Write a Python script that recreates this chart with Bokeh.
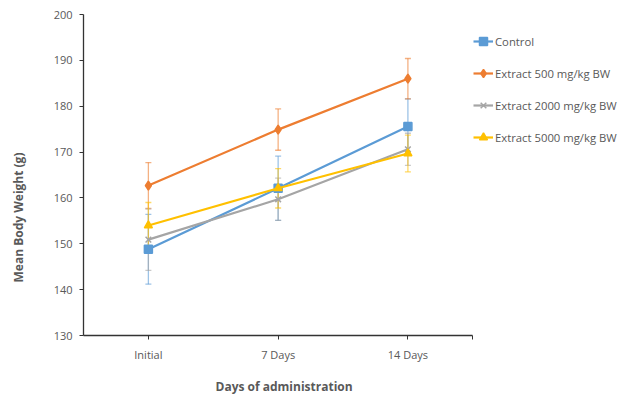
from bokeh.plotting import figure
from bokeh.models import (ColumnDataSource, Whisker, Range1d, Legend, LegendItem, TeeHead,
                          FixedTicker, Title)
from bokeh.embed import file_html
from bokeh.resources import INLINE

days = ["Initial", "7 Days", "14 Days"]
control = [148.8, 162.1, 175.6]
control_err = [7.6, 7.0, 6.0]
ext500 = [162.7, 174.9, 186.0]
ext500_err = [5.0, 4.5, 4.4]
ext2000 = [150.9, 159.7, 170.6]
ext2000_err = [6.7, 4.6, 3.5]
ext5000 = [154.0, 162.1, 169.7]
ext5000_err = [5.0, 4.3, 4.0]
y_ticks = [130, 140, 150, 160, 170, 180, 190, 200]

FONT = "Open Sans"
GREY = "#595959"
AXC = "#333333"

xs = list(range(len(days)))

p = figure(width=630, height=398, x_range=Range1d(-0.5, 3.7), y_range=Range1d(130, 200),
           output_backend="svg", toolbar_location=None,
           min_border_left=83, min_border_top=14, min_border_bottom=63, min_border_right=2)
p.outline_line_color = None
p.xgrid.grid_line_color = None
p.ygrid.grid_line_color = None

series = [
    ("Control", control, control_err, "#5B9BD5", "square", 8),
    ("Extract 500 mg/kg BW", ext500, ext500_err, "#ED7D31", "diamond", 9),
    ("Extract 2000 mg/kg BW", ext2000, ext2000_err, "#A5A5A5", "x", 8),
    ("Extract 5000 mg/kg BW", ext5000, ext5000_err, "#FFC000", "triangle", 8),
]

items = []
for name, vals, errs, color, marker, size in series:
    src = ColumnDataSource(dict(x=xs, y=vals,
                                upper=[v + e for v, e in zip(vals, errs)],
                                lower=[v - e for v, e in zip(vals, errs)]))
    w = Whisker(base="x", upper="upper", lower="lower", source=src, dimension="height",
                line_color=color, line_alpha=0.6, line_width=1.3,
                upper_head=TeeHead(size=6, line_color=color, line_alpha=0.6, line_width=1.3),
                lower_head=TeeHead(size=6, line_color=color, line_alpha=0.6, line_width=1.3))
    p.add_layout(w)
    lr = p.line("x", "y", source=src, line_color=color, line_width=2.2)
    sr = p.scatter("x", "y", source=src, marker=marker, size=size, fill_color=color,
                   line_color=color, line_width=1.5)
    items.append(LegendItem(label=name, renderers=[lr, sr]))

legend = Legend(items=items, location=(390, 188), orientation="vertical",
                label_text_font=FONT, label_text_font_size="11.3px", label_text_color=GREY,
                glyph_width=20, glyph_height=20, label_height=20, spacing=12,
                label_standoff=2, padding=0, margin=0,
                border_line_color=None, background_fill_alpha=0)
p.add_layout(legend)

p.xaxis.ticker = FixedTicker(ticks=xs + [len(days) - 0.5])
p.xaxis.major_label_overrides = {**{x: d for x, d in zip(xs, days)}, len(days) - 0.5: ""}
p.xaxis.bounds = (-0.5, len(days) - 0.5)
p.xaxis.minor_tick_line_color = None
p.yaxis.ticker = y_ticks
p.yaxis.minor_tick_line_color = None
for ax in (p.xaxis, p.yaxis):
    ax.axis_line_color = AXC
    ax.axis_line_width = 1.3
    ax.major_tick_line_color = AXC
    ax.major_tick_in = 0
    ax.major_tick_out = 4
    ax.major_label_text_font = FONT
    ax.major_label_text_font_size = "11px"
    ax.major_label_text_color = GREY
p.xaxis.major_label_standoff = 7
p.yaxis.major_label_standoff = 7

# spacer panels between the axes and their titles
p.add_layout(Title(text=" ", text_font_size="1px", standoff=21, text_color="#ffffff"), "left")
p.add_layout(Title(text="Mean Body Weight (g)", align="left", offset=53, standoff=0,
                   text_font=FONT, text_font_size="12px", text_font_style="bold",
                   text_color=GREY), "left")
p.add_layout(Title(text=" ", text_font_size="1px", standoff=8, text_color="#ffffff"), "below")
p.add_layout(Title(text="Days of administration", align="left", offset=132, standoff=0,
                   text_font=FONT, text_font_size="12px", text_font_style="bold",
                   text_color=GREY), "below")

open("out.html", "w").write(file_html(p, INLINE))
